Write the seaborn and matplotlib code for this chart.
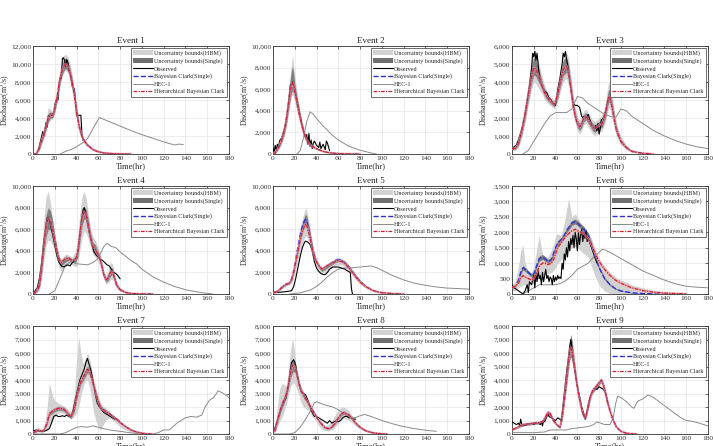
import matplotlib
matplotlib.use("Agg")
import matplotlib.pyplot as plt
import seaborn as sns
from matplotlib.patches import Patch
from matplotlib.lines import Line2D
from matplotlib.ticker import FuncFormatter, MultipleLocator

# ---------------- datos ----------------
# Event 1
e1_t = [0,3,6,8,10,12,14,16,18,20,22,24,26,28,30,32,34,36,38,40,42,44,46,48,50,55,60,65,70,80,90]
e1_hbc = [0,0,700,1500,2200,3000,4000,4300,4300,5000,6200,7800,9000,9700,10000,9700,9000,8000,6500,4800,3300,2300,1700,1300,1000,500,250,120,60,10,0]
e1_bcs = [0,0,700,1500,2200,3000,4000,4300,4300,5000,6200,7800,9000,9700,10000,9700,9000,8000,6500,4800,3300,2300,1700,1300,1000,500,250,120,60,10,0]
e1_hbm_hi = [0,100,1000,2000,3000,4000,5200,5000,4600,5500,7000,8800,10200,10900,11100,10800,10000,8800,7200,5500,3800,2700,2000,1500,1200,600,300,150,80,15,0]
e1_hbm_lo = [0,0,400,1100,1700,2500,3400,3800,3900,4500,5600,7000,8200,9000,9300,9000,8200,7200,5800,4100,2800,1900,1400,1000,800,350,180,80,40,5,0]
e1_sgl_hi = [0,50,850,1700,2500,3300,4500,4700,4600,5300,6600,8300,9600,10400,10700,10300,9500,8400,6900,5100,3500,2500,1800,1400,1100,550,280,130,70,12,0]
e1_sgl_lo = [0,0,550,1300,1900,2700,3600,4000,4000,4700,5800,7300,8500,9200,9500,9200,8500,7600,6100,4500,3100,2100,1600,1200,900,450,220,110,50,8,0]
e1_t_obs = [0,3,5,7,9,10,12,13,14,15,17,19,20,22,23,24,26,27,28,29,30,31,32,33,34,36,38,39,40,42,44,45,46]
e1_obs = [0,0,500,1500,2500,2000,3500,3000,4200,4300,4300,4500,5500,6300,6000,8000,8500,10600,10700,10400,9700,10500,10200,9200,9000,7500,7200,6000,4200,4300,4300,2000,1500]
e1_t_hec = [25,30,35,40,45,50,55,61,70,80,90,100,110,120,130,134,138]
e1_hec = [0,300,500,800,1200,1700,2800,4050,3600,3100,2600,2150,1750,1350,1000,1100,1050]

# Event 2
e2_t = [0,2,4,6,8,10,12,14,16,17,18,19,20,22,24,26,28,30,32,35,38,42,46,50,55,60,70,80]
e2_hbc = [0,100,400,800,1300,2000,3000,4500,6000,6400,6600,6300,5800,4800,3800,2900,2100,1500,1100,800,600,400,250,150,80,40,10,0]
e2_bcs = [0,100,400,800,1300,2000,3000,4500,6000,6400,6600,6300,5800,4800,3800,2900,2100,1500,1100,800,600,400,250,150,80,40,10,0]
e2_hbm_hi = [0,200,600,1100,1700,2600,3800,5600,7500,8500,9200,8200,7200,5800,4500,3400,2500,1800,1300,950,700,480,300,180,100,50,12,0]
e2_hbm_lo = [0,50,250,550,950,1500,2300,3500,4800,5300,5500,5200,4800,3900,3100,2300,1700,1200,900,650,480,320,200,120,60,30,8,0]
e2_sgl_hi = [0,150,500,950,1500,2300,3400,5100,7000,7800,8100,7400,6500,5300,4200,3200,2300,1650,1200,880,650,440,280,165,90,45,11,0]
e2_sgl_lo = [0,70,320,650,1100,1700,2600,3900,5200,5700,5900,5600,5200,4300,3400,2600,1900,1350,1000,720,540,360,220,135,70,35,9,0]
e2_t_obs = [0,1,2,3,4,5,6,8,10,12,14,15,16,17,18,19,20,22,24,26,28,30,31,32,33,34,35,36,37,38,40,42,43,44,46,48,49,50,52]
e2_obs = [500,200,800,300,900,600,1200,1500,2200,3000,4500,5500,6400,6500,6700,6400,6000,5000,4000,3000,2100,1500,1800,900,1900,700,1300,500,1000,1200,800,600,1100,500,900,400,1200,1000,300]
e2_t_hec = [22,25,28,31,34,37,40,45,50,55,60,70,80,90,95]
e2_hec = [0,300,1500,3000,3900,3700,3300,2700,2200,1700,1300,700,350,100,0]

# Event 3
e3_t = [0,3,6,9,12,15,18,20,22,24,26,28,30,33,36,39,42,45,47,50,52,54,56,58,60,62,64,66,68,70,72,74,76,78,80,83,86,88,89,90,92,94,96,100,105,110,120,130]
e3_hbc = [300,300,600,1300,2200,3300,4300,4800,4700,4400,4100,3700,3400,3100,2900,2750,3300,4200,4700,4900,4500,3700,2800,2100,1700,1500,1700,2000,2100,1900,1700,1500,1400,1500,1600,1700,2300,3000,3200,3100,2600,1900,1300,700,350,150,40,0]
e3_bcs = [300,300,600,1300,2200,3300,4300,4800,4700,4400,4100,3700,3400,3100,2900,2750,3300,4200,4700,4900,4500,3700,2800,2100,1700,1500,1700,2000,2100,1900,1700,1500,1400,1500,1600,1700,2300,3000,3200,3100,2600,1900,1300,700,350,150,40,0]
e3_hbm_hi = [400,450,900,1800,2800,4000,5200,5800,5600,5200,4700,4200,3800,3400,3150,3000,3800,4900,5500,5700,5300,4400,3400,2600,2100,1900,2100,2400,2500,2300,2100,1900,1800,1900,2000,2200,2900,3800,4000,3800,3200,2400,1700,950,500,220,60,0]
e3_hbm_lo = [200,200,400,900,1700,2700,3600,4000,3900,3700,3500,3300,3000,2800,2650,2500,2900,3600,4000,4200,3800,3100,2300,1700,1300,1100,1300,1600,1700,1500,1300,1100,1000,1100,1200,1300,1800,2400,2600,2500,2000,1450,950,500,250,100,25,0]
e3_sgl_hi = [350,380,750,1550,2500,3650,4800,5400,5200,4800,4400,3950,3600,3250,3000,2870,3550,4600,5200,5400,4900,4050,3100,2350,1900,1700,1900,2200,2300,2100,1900,1700,1600,1700,1800,1950,2600,3400,3600,3450,2900,2150,1500,820,420,180,50,0]
e3_sgl_lo = [250,250,480,1100,1950,3000,3950,4400,4300,4050,3800,3500,3200,2950,2770,2620,3100,3900,4350,4550,4150,3400,2550,1900,1500,1300,1500,1800,1900,1700,1500,1300,1200,1300,1400,1500,2050,2700,2900,2800,2300,1650,1100,600,300,120,30,0]
e3_t_obs = [0,2,4,6,8,10,12,14,16,18,19,20,21,22,23,24,25,26,28,30,32,34,36,38,40,42,44,46,47,48,49,50,51,52,54,56,58,60,62,64,65,66,68,70,72,74,76,77,78,79,80,81,82,84,86,88,89,90]
e3_obs = [300,400,500,800,1200,1600,2200,3000,3800,4800,5600,5400,5700,5200,5600,5000,4400,4000,3700,3500,3400,3100,3000,2800,2700,3600,4200,5000,5600,5400,5700,5300,5000,4500,3600,2800,2700,2700,2600,2100,2000,2100,2000,2200,1800,1500,1400,1600,1300,1700,1100,1400,1900,2000,2400,2900,3200,3000]
e3_t_hec = [10,15,20,25,30,35,40,45,50,55,60,65,70,75,80,85,90,95,100,105,110,120,130,140,150,160,170,180]
e3_hec = [0,200,700,1200,1700,2100,2300,2300,2300,2500,3200,3100,2800,2600,2400,2200,2100,2000,2500,2400,2100,1700,1300,1000,750,550,400,300]

# Event 4
e4_t = [0,3,6,8,10,12,14,16,18,20,22,24,26,28,30,33,36,39,41,43,45,47,49,51,53,55,57,59,61,63,65,67,69,71,73,75,77,80,85,90,100,110]
e4_hbc = [0,200,800,2500,4500,6300,7000,6800,6000,5000,4000,3200,2900,3100,3300,3300,3100,3200,3800,5500,7000,7600,7300,6300,5200,4400,4200,3800,3400,2700,1800,1300,1500,2000,2100,1400,800,400,150,50,10,0]
e4_bcs = [0,200,800,2500,4500,6300,7000,6800,6000,5000,4000,3200,2900,3100,3300,3300,3100,3200,3800,5500,7000,7600,7300,6300,5200,4400,4200,3800,3400,2700,1800,1300,1500,2000,2100,1400,800,400,150,50,10,0]
e4_hbm_hi = [0,400,1500,4000,7000,9000,9500,8500,7000,5500,4300,3500,3300,3500,3700,3600,3400,4000,5000,7500,9000,9500,8800,7300,6000,5300,5000,4500,4000,3200,2200,1700,2200,2900,2800,1900,1100,600,200,70,15,0]
e4_hbm_lo = [0,100,400,1500,3000,4500,5000,4900,4500,4000,3200,2400,2100,2400,2700,2800,2700,2500,2700,4000,5200,5800,5600,5000,4300,3700,3400,3100,2700,2100,1400,900,1000,1300,1400,900,500,250,100,30,5,0]
e4_sgl_hi = [0,300,1100,3000,5500,7300,8000,7700,6800,5500,4300,3400,3100,3300,3500,3450,3250,3500,4200,6200,7700,8100,7800,6800,5600,4800,4600,4100,3700,2950,2000,1500,1800,2400,2400,1600,950,500,180,60,12,0]
e4_sgl_lo = [0,150,600,2000,3800,5300,6000,5900,5300,4500,3700,2900,2600,2800,3000,3100,2900,2900,3400,4800,6300,7000,6800,5800,4800,4000,3800,3500,3100,2450,1600,1100,1250,1650,1800,1200,650,300,120,40,8,0]
e4_t_obs = [0,2,4,6,8,10,12,13,14,15,16,18,20,22,24,26,28,30,32,34,36,38,40,41,42,43,44,45,46,47,48,49,50,52,54,56,58,60,62,64,66,68,70,72,74,76,78,80]
e4_obs = [100,300,600,1500,3000,5000,6500,7000,7100,6800,6500,5500,4500,3500,2900,2600,2500,2600,2700,2600,2900,3100,3300,3800,4500,5500,6500,7200,7800,8000,7700,7200,6500,5500,4600,3900,3600,3400,3200,3100,2900,2700,2600,2300,2000,1900,1700,1400]
e4_t_hec = [15,20,25,30,35,40,50,55,60,65,68,72,76,80,85,90,95,100,110,120,130,140,150,160,165]
e4_hec = [0,300,1500,2700,3000,2800,2700,2900,3300,4400,4700,4400,4300,3900,3500,3100,2800,2300,1600,1100,700,400,200,60,0]

# Event 5
e5_t = [0,3,6,9,12,15,17,19,21,23,25,27,29,30,31,33,35,37,39,41,43,45,48,51,54,57,60,63,66,69,72,75,80,85,90,95,100,110,120]
e5_hbc = [100,200,400,700,900,1000,1300,2000,3000,4000,5000,5800,6300,6500,6300,5600,4700,3800,3200,2800,2500,2300,2500,2700,2800,3000,3100,3000,2800,2500,2100,1700,1100,700,400,220,120,30,0]
e5_bcs = [100,200,400,700,900,1000,1400,2200,3300,4400,5500,6300,6800,6900,6700,5900,4900,3900,3200,2800,2500,2300,2500,2700,2900,3100,3200,3100,2900,2600,2200,1800,1200,750,430,240,130,35,0]
e5_hbm_hi = [150,300,550,900,1100,1200,1600,2500,3700,4900,6100,7000,7700,8000,7700,6700,5500,4300,3500,3000,2700,2500,2700,2900,3100,3300,3400,3300,3100,2800,2400,2000,1300,850,500,280,150,40,0]
e5_hbm_lo = [50,120,300,550,750,850,1000,1500,2300,3200,4000,4700,5200,5400,5300,4700,4000,3300,2800,2400,2100,1900,2000,2200,2400,2600,2700,2700,2500,2200,1800,1400,900,550,300,160,80,20,0]
e5_sgl_hi = [120,250,470,800,1000,1100,1500,2300,3500,4700,5800,6600,7200,7400,7200,6300,5200,4100,3400,2900,2600,2400,2600,2800,3000,3200,3300,3200,3000,2700,2300,1900,1250,800,460,260,140,38,0]
e5_sgl_lo = [80,160,350,620,820,920,1200,1900,2900,3900,4900,5700,6200,6400,6200,5500,4500,3600,3000,2600,2300,2100,2300,2500,2700,2900,3000,2950,2750,2450,2050,1650,1050,650,380,200,110,30,0]
e5_t_obs = [0,5,10,14,17,19,21,23,25,27,29,30,32,34,36,38,40,42,44,46,48,50,52,55,58,60,63,66,69,71,72,73]
e5_obs = [200,150,200,250,300,700,1500,2500,3500,4300,4800,4900,4800,4600,4000,3000,2400,2100,1900,1800,1800,2000,2300,2500,2500,2500,2400,2300,2100,2000,500,0]
e5_t_hec = [15,25,35,40,45,50,55,60,65,70,80,90,95,100,110,120,130,140,150,160,170,180]
e5_hec = [0,100,400,700,1100,1600,2000,2300,2400,2400,2500,2600,2450,2200,1700,1300,1000,800,650,550,500,450]

# Event 6
e6_t = [0,3,6,8,10,12,15,18,20,23,25,28,30,33,36,38,40,42,45,48,50,52,55,58,60,63,66,70,73,76,80,85,90,95,100,110,120,130,140,150,160]
e6_hbc = [200,250,350,500,600,550,500,450,500,700,900,1000,1000,950,1000,1100,1300,1500,1650,1800,1900,1950,2050,2100,2050,2000,1950,1800,1600,1350,1050,800,600,450,350,200,110,60,30,15,5]
e6_bcs = [200,250,450,700,850,800,700,600,650,950,1150,1200,1150,1050,1100,1300,1500,1650,1750,1900,2050,2150,2300,2350,2300,2200,2100,1900,1600,1250,850,500,300,170,100,40,15,5,0,0,0]
e6_hbm_hi = [300,400,900,1400,1600,1000,700,700,900,1500,1900,1300,1200,1200,1400,1600,1900,1950,1900,2300,2700,3100,2500,2600,2500,2300,2200,2000,1800,1500,1150,900,700,550,450,300,200,120,70,40,20]
e6_hbm_lo = [100,120,200,250,300,300,300,300,350,450,550,600,650,650,700,750,850,1000,1100,1250,1350,1400,1500,1550,1500,1400,1300,1200,900,600,300,100,20,0,0,0,0,0,0,0,0]
e6_sgl_hi = [220,280,500,760,920,870,760,660,710,1020,1230,1280,1230,1120,1180,1380,1580,1730,1830,1980,2130,2230,2380,2430,2380,2280,2180,1980,1680,1320,900,540,330,190,115,48,18,6,0,0,0]
e6_sgl_lo = [180,220,400,640,780,730,640,540,590,880,1070,1120,1070,980,1020,1220,1420,1570,1670,1820,1970,2070,2220,2270,2220,2120,2020,1820,1520,1180,800,460,270,150,85,32,12,4,0,0,0]
e6_t_obs = [0,2,4,6,8,10,12,14,15,16,18,20,21,22,23,24,25,26,27,28,29,30,31,32,33,34,35,36,37,38,39,40,41,42,43,44,45,46,47,48,49,50,51,52,53,54,55,56,57,58,59,60,61,62,63,64,65,66,67,68,69,70,72,74,76,78]
e6_obs = [300,200,150,100,50,0,100,300,50,400,300,600,200,700,400,800,500,600,300,700,400,600,800,500,600,400,550,500,300,600,400,550,450,600,500,550,500,1000,800,1300,1100,1500,1200,1700,1400,1800,1600,1900,1500,2000,1800,1400,2000,1600,1900,2100,1700,2000,1800,2050,1700,1800,1600,1400,1200,1000]
e6_t_hec = [10,15,20,25,30,40,45,50,55,60,65,70,75,80,83,86,90,100,110,120,130,140,150,160,170,180]
e6_hec = [0,100,200,300,300,300,350,450,600,800,900,1000,1200,1350,1450,1420,1350,1150,950,750,600,450,330,250,220,200]

# Event 7
e7_t = [0,3,5,8,10,13,15,18,20,23,25,28,30,33,35,38,40,42,44,46,48,50,52,54,56,58,60,62,64,66,68,70,72,75,78,80,85,90,95,100,105,110]
e7_hbc = [100,200,300,200,300,800,1500,1700,1800,1900,1900,1850,1700,1400,1300,1800,2700,3300,3900,4200,4500,4800,4600,4100,3500,2900,2400,2000,1800,1700,1600,1500,1400,1200,1000,850,550,300,150,60,15,0]
e7_bcs = [100,200,300,200,300,800,1500,1700,1800,1900,1900,1850,1700,1400,1300,1800,2700,3300,3900,4200,4500,4800,4600,4100,3500,2900,2400,2000,1800,1700,1600,1500,1400,1200,1000,850,550,300,150,60,15,0]
e7_hbm_hi = [200,400,500,300,500,2000,3800,2800,2500,2300,2200,2100,2000,1700,1700,3000,5500,7200,6000,5200,5500,6000,5600,4700,4000,3300,2800,2300,2100,2000,1800,1700,1500,1300,1100,1000,600,350,170,70,18,0]
e7_hbm_lo = [50,100,150,100,150,300,700,1000,1300,1500,1600,1500,1400,1200,1100,1300,1600,2000,2800,3500,3900,4000,3500,2500,1500,900,500,300,600,900,1100,1200,1100,900,700,500,300,150,60,20,5,0]
e7_sgl_hi = [130,250,360,250,360,900,1650,1850,1950,2050,2050,2000,1850,1550,1450,1950,2900,3500,4100,4450,4750,5050,4850,4350,3700,3100,2550,2150,1950,1850,1750,1620,1500,1300,1080,920,600,330,165,66,17,0]
e7_sgl_lo = [70,150,240,150,240,700,1350,1550,1650,1750,1750,1700,1550,1250,1150,1650,2500,3100,3700,3950,4250,4550,4350,3850,3300,2700,2250,1850,1650,1550,1450,1380,1300,1100,920,780,500,270,135,54,13,0]
e7_t_obs = [0,3,6,9,12,15,17,19,21,23,25,27,29,31,33,35,37,39,41,43,45,47,49,50,51,53,55,57,59,61,63,65,67,69,71,73,75,77,79]
e7_obs = [200,300,200,200,250,400,800,1300,1400,1300,1300,1350,1300,1400,1300,1300,1800,2600,3300,4000,4400,4800,5400,5600,5300,4800,4000,3000,2300,2000,1800,1600,1500,1400,1300,1200,1100,1100,1000]
e7_t_hec = [0,25,30,35,40,45,50,55,60,65,70,75,80,90,100,110,115,120,125,128,132,136,140,145,150,155,158,162,166,170,175,180]
e7_hec = [0,0,100,300,500,550,500,600,500,400,300,250,200,80,0,0,100,300,300,500,800,1000,1200,1300,1250,1400,2000,2500,2700,3200,3000,2700]

# Event 8
e8_t = [0,2,4,6,8,10,12,14,16,18,20,22,24,26,28,30,33,36,39,42,45,48,51,54,57,60,63,65,67,70,73,76,80,85,90,95,100,105]
e8_hbc = [200,300,1000,1600,2100,2500,2900,3600,4500,5100,5000,4400,3700,3200,2900,2600,2200,1800,1400,1000,700,450,400,500,800,1200,1500,1600,1500,1400,1100,800,500,250,120,50,15,0]
e8_bcs = [200,300,1000,1600,2100,2500,2900,3600,4500,5100,5000,4400,3700,3200,2900,2600,2200,1800,1400,1000,700,450,400,500,800,1200,1500,1600,1500,1400,1100,800,500,250,120,50,15,0]
e8_hbm_hi = [300,600,2000,3300,3700,3700,3500,4500,6200,7100,6000,4500,3600,3200,3000,2800,2500,2000,1500,1200,900,600,700,1000,1400,1800,2000,2000,1900,1700,1300,950,600,300,140,60,18,0]
e8_hbm_lo = [100,150,500,900,1200,1600,2100,2800,3500,3800,3700,3300,2800,2300,2000,1900,1700,1300,1000,600,350,250,250,300,500,800,1100,1200,1100,1000,800,600,350,170,80,35,10,0]
e8_sgl_hi = [250,400,1200,1850,2350,2750,3150,3900,4900,5600,5400,4700,3950,3400,3100,2750,2330,1900,1500,1080,760,500,440,560,880,1300,1620,1730,1620,1500,1180,860,540,270,130,54,16,0]
e8_sgl_lo = [150,200,800,1350,1850,2250,2650,3300,4100,4600,4600,4100,3450,3000,2700,2450,2070,1700,1300,920,640,400,360,440,720,1100,1380,1470,1380,1300,1020,740,460,230,110,46,14,0]
e8_t_obs = [0,2,4,6,8,10,12,14,15,16,17,18,19,20,21,22,24,26,28,30,32,34,36,38,40,42,44,46,48,50,52,54,56,58,60,62,64,66,68,70,72,74,76]
e8_obs = [200,500,1000,1500,2000,2400,2700,3500,4200,4800,5300,5400,5500,5300,5000,4500,3600,3100,3000,2900,2500,2000,1600,1300,1300,1200,1100,1000,900,800,1000,800,900,1000,900,1000,1200,1300,1300,1200,1200,1100,1100]
e8_t_hec = [0,15,20,25,30,35,38,40,43,46,50,55,60,65,70,75,80,84,90,100,110,120,130,140,150]
e8_hec = [0,0,100,500,1100,1800,2300,2400,2300,2200,2100,2000,1800,1500,1300,1200,1350,1450,1300,1000,750,550,400,280,200]

# Event 9
e9_t = [0,5,10,15,20,25,28,31,33,35,38,41,44,46,48,50,52,53,54,55,57,59,61,63,65,67,68,70,72,74,76,78,80,82,84,86,88,90,93,96,100,105,110,115]
e9_hbc = [300,500,700,750,800,850,900,1300,1600,1500,1000,700,500,1200,2500,3900,5400,6100,6400,6200,5200,4000,3000,2200,1500,1200,1300,2000,2800,3200,3400,3600,3800,4000,3600,3000,2300,1700,1000,500,200,60,15,0]
e9_bcs = [300,500,700,750,800,850,900,1300,1600,1500,1000,700,500,1200,2500,3900,5400,6100,6400,6200,5200,4000,3000,2200,1500,1200,1300,2000,2800,3200,3400,3600,3800,4000,3600,3000,2300,1700,1000,500,200,60,15,0]
e9_hbm_hi = [400,600,800,850,900,950,1050,1450,1750,1650,1150,800,600,1400,2800,4400,6000,6800,7300,7000,5800,4400,3300,2400,1700,1350,1450,2200,3000,3400,3600,3800,4000,4200,3800,3200,2500,1850,1100,550,220,70,18,0]
e9_hbm_lo = [250,420,600,650,700,750,780,1150,1450,1350,880,600,420,1000,2200,3400,4800,5500,5800,5600,4600,3600,2700,2000,1300,1050,1150,1800,2600,3000,3200,3400,3600,3800,3400,2800,2100,1550,900,450,180,50,12,0]
e9_sgl_hi = [380,580,780,830,880,930,1020,1420,1720,1620,1120,780,580,1350,2750,4300,5900,6800,7400,7000,5700,4300,3250,2350,1650,1320,1420,2150,2950,3350,3550,3750,3950,4150,3750,3150,2450,1800,1080,540,215,68,17,0]
e9_sgl_lo = [270,440,620,670,720,770,800,1180,1480,1380,900,620,440,1050,2250,3500,4900,5500,5700,5500,4700,3700,2750,2050,1350,1080,1180,1850,2650,3050,3250,3450,3650,3850,3450,2850,2150,1600,920,460,185,52,13,0]
e9_t_obs = [0,2,4,6,7,8,9,10,12,14,16,18,20,22,24,26,27,28,29,30,32,33,34,36,38,40,42,44,45,46,48,50,52,53,54,55,56,58,60,62,64,66,67,68,69,70,72,74,76,78,80,82,84,86,88]
e9_obs = [900,800,700,800,600,1100,700,600,650,700,750,800,700,850,800,700,900,600,1000,900,1300,1500,1300,1200,1100,1000,1200,1100,1000,1500,3000,4500,5800,6500,7000,6400,5500,4500,3500,2800,2000,1500,1100,1400,1800,2200,2800,3200,3400,3300,3500,3400,3300,3000,2200]
e9_t_hec = [0,20,30,35,40,45,50,55,60,65,70,75,78,80,85,90,93,95,97,100,105,110,112,115,120,125,130,140,150,155,160,165,170,180]
e9_hec = [100,100,150,300,300,300,300,400,450,500,550,700,900,850,700,700,1200,2200,2800,2700,2400,2000,1900,2400,2600,2900,2700,2100,1500,1200,1000,950,850,600]

ymax = [12000, 10000, 6000, 10000, 10000, 3500, 8000, 8000, 8000]
ystep = [2000, 2000, 1000, 2000, 2000, 500, 1000, 1000, 1000]

events = [
    (e1_t, e1_hbc, e1_bcs, e1_hbm_lo, e1_hbm_hi, e1_sgl_lo, e1_sgl_hi, e1_t_obs, e1_obs, e1_t_hec, e1_hec),
    (e2_t, e2_hbc, e2_bcs, e2_hbm_lo, e2_hbm_hi, e2_sgl_lo, e2_sgl_hi, e2_t_obs, e2_obs, e2_t_hec, e2_hec),
    (e3_t, e3_hbc, e3_bcs, e3_hbm_lo, e3_hbm_hi, e3_sgl_lo, e3_sgl_hi, e3_t_obs, e3_obs, e3_t_hec, e3_hec),
    (e4_t, e4_hbc, e4_bcs, e4_hbm_lo, e4_hbm_hi, e4_sgl_lo, e4_sgl_hi, e4_t_obs, e4_obs, e4_t_hec, e4_hec),
    (e5_t, e5_hbc, e5_bcs, e5_hbm_lo, e5_hbm_hi, e5_sgl_lo, e5_sgl_hi, e5_t_obs, e5_obs, e5_t_hec, e5_hec),
    (e6_t, e6_hbc, e6_bcs, e6_hbm_lo, e6_hbm_hi, e6_sgl_lo, e6_sgl_hi, e6_t_obs, e6_obs, e6_t_hec, e6_hec),
    (e7_t, e7_hbc, e7_bcs, e7_hbm_lo, e7_hbm_hi, e7_sgl_lo, e7_sgl_hi, e7_t_obs, e7_obs, e7_t_hec, e7_hec),
    (e8_t, e8_hbc, e8_bcs, e8_hbm_lo, e8_hbm_hi, e8_sgl_lo, e8_sgl_hi, e8_t_obs, e8_obs, e8_t_hec, e8_hec),
    (e9_t, e9_hbc, e9_bcs, e9_hbm_lo, e9_hbm_hi, e9_sgl_lo, e9_sgl_hi, e9_t_obs, e9_obs, e9_t_hec, e9_hec),
]

# ---------------- estilo ----------------
sns.set_style("whitegrid")
plt.rcParams['font.family'] = ['Liberation Serif', 'DejaVu Serif']
plt.rcParams['mathtext.fontset'] = 'stix'

c_hbm = "#d2d2d2"
c_sgl = "#6f6f6f"
c_blue = "#2f2fd6"
c_red = "#d4222c"
c_hec = "#8a8a8a"

fig = plt.figure(figsize=(7.13, 4.46), dpi=100)
W, H = 713, 446
lefts = [33, 273, 512]
tops = [46, 186, 326]
aw, ah = 196, 108

fmt = FuncFormatter(lambda v, p: f"{int(v):,}")

for i, ev in enumerate(events):
    t, hbc, bcs, hlo, hhi, slo, shi, tobs, obs, thec, hec = ev
    r, c = divmod(i, 3)
    ax = fig.add_axes([lefts[c] / W, 1 - (tops[r] + ah) / H, aw / W, ah / H])

    # bandas de incertidumbre
    ax.fill_between(t, hlo, hhi, color=c_hbm, lw=0, zorder=1)
    ax.fill_between(t, slo, shi, color=c_sgl, lw=0, alpha=0.85, zorder=2)
    # curvas
    sns.lineplot(x=thec, y=hec, ax=ax, color=c_hec, lw=0.7, estimator=None, sort=False, zorder=3)
    sns.lineplot(x=tobs, y=obs, ax=ax, color="black", lw=0.8, estimator=None, sort=False, zorder=4)
    sns.lineplot(x=t, y=bcs, ax=ax, color=c_blue, lw=1.0, linestyle="--", estimator=None, sort=False, zorder=5)
    sns.lineplot(x=t, y=hbc, ax=ax, color="#f2a3a8", lw=1.8, alpha=0.6, estimator=None, sort=False, zorder=6)
    sns.lineplot(x=t, y=hbc, ax=ax, color=c_red, lw=0.9, linestyle=(0, (3, 1, 1, 1)), estimator=None, sort=False, zorder=7)

    ax.set_xlim(0, 180)
    ax.set_ylim(0, ymax[i])
    ax.xaxis.set_major_locator(MultipleLocator(20))
    ax.yaxis.set_major_locator(MultipleLocator(ystep[i]))
    ax.yaxis.set_major_formatter(fmt)
    ax.tick_params(labelsize=5.3, direction="in", length=2, width=0.5, pad=1.2,
                   top=True, right=True, colors="#333333")
    ax.grid(True, color="#e4e4e4", lw=0.5)
    for s in ax.spines.values():
        s.set_color("#333333")
        s.set_linewidth(0.6)

    ax.set_title(f"Event {i + 1}", fontsize=6.5, pad=2)
    ax.set_xlabel("Time(hr)", fontsize=6, labelpad=1)
    ax.set_ylabel("Discharge(m$^3$/s)", fontsize=5.5)
    ax.yaxis.set_label_coords(-21 / aw, 0.5)

    handles = [
        Patch(facecolor=c_hbm, edgecolor="none", label="Uncertainty bounds(HBM)"),
        Patch(facecolor=c_sgl, edgecolor="none", label="Uncertainty bounds(Single)"),
        Line2D([], [], color="black", lw=0.8, label="Observed"),
        Line2D([], [], color=c_blue, lw=1.0, linestyle="--", label="Bayesian Clark(Single)"),
        Line2D([], [], color=c_hec, lw=0.7, label="HEC-1"),
        Line2D([], [], color=c_red, lw=0.9, linestyle=(0, (3, 1, 1, 1)), label="Hierarchical Bayesian Clark"),
    ]
    leg = ax.legend(handles=handles, loc="upper right", fontsize=4.4, frameon=True, fancybox=False,
                    borderpad=0.35, labelspacing=0.3, handlelength=3.2, handleheight=0.9,
                    handletextpad=0.2, borderaxespad=0.35)
    leg.get_frame().set_edgecolor("#333333")
    leg.get_frame().set_linewidth(0.5)
    leg.get_frame().set_alpha(1)

fig.savefig("out.png", dpi=100)
